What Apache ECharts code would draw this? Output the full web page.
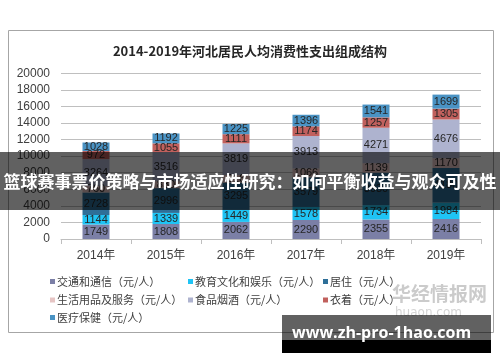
<!DOCTYPE html>
<html>
<head>
<meta charset="utf-8">
<script src="https://cdn.jsdelivr.net/npm/echarts@6/dist/echarts.min.js"></script>
<style>
html,body{margin:0;padding:0;background:#fff;}
#c{width:500px;height:362px;}
</style>
</head>
<body>
<div id="c"></div>
<script>
var categories = ['2014年','2015年','2016年','2017年','2018年','2019年'];
var transport = [1749,1808,2062,2290,2355,2416];
var education = [1144,1339,1449,1578,1734,1984];
var housing   = [2728,2996,3295,3579,3930,4180];
var household = [760,830,916,1066,1139,1170];
var food      = [3264,3516,3819,3913,4271,4676];
var clothing  = [972,1055,1111,1174,1257,1305];
var medical   = [1028,1192,1225,1396,1541,1699];
var yTicks = [0,2000,4000,6000,8000,10000,12000,14000,16000,18000,20000];

var seriesNames = ['交通和通信（元/人）','教育文化和娱乐（元/人）','居住（元/人）','生活用品及服务（元/人）','食品烟酒（元/人）','衣着（元/人）','医疗保健（元/人）'];
var seriesData = [transport, education, housing, household, food, clothing, medical];
var colors = ['#7b7fa6','#1fc4f5','#2e6f98','#e6c5c4','#aeb3cf','#c1605d','#4a93c4'];

var FONT = 'Arial, "Liberation Sans", "Noto Sans CJK SC", sans-serif';

var series = seriesData.map(function(d, i){
  return {
    name: seriesNames[i],
    type: 'bar',
    stack: 'total',
    barWidth: 27,
    data: d,
    itemStyle: {color: colors[i]},
    label: {show: true, position: 'inside', color: '#262626', fontSize: 11, fontFamily: FONT},
    z: 2
  };
});

var legendPos = [[50,276],[188,276],[323,276],[50,294.5],[188,294.5],[323,294.5],[50,312]];
var legends = seriesNames.map(function(n, i){
  return {
    data: [n], left: legendPos[i][0], top: legendPos[i][1], padding: 0,
    icon: 'rect', itemWidth: 5, itemHeight: 5, itemGap: 0,
    textStyle: {fontSize: 11, color: '#404040', fontFamily: '"Noto Sans CJK SC", sans-serif', padding: [0,0,0,-3]},
    selectedMode: false
  };
});

var chart = echarts.init(document.getElementById('c'), null, {renderer: 'canvas'});
chart.setOption({
  animation: false,
  backgroundColor: '#fff',
  title: {
    text: '2014-2019年河北居民人均消费性支出组成结构',
    left: 'center', top: 40,
    textStyle: {fontSize: 13, fontWeight: 'bold', color: '#262626', fontFamily: '"Noto Sans CJK SC", sans-serif'}
  },
  legend: legends,
  grid: {left: 61, right: 19, top: 73.3, bottom: 123},
  xAxis: {
    type: 'category', data: categories,
    axisLine: {lineStyle: {color: '#bfbfbf'}},
    axisTick: {show: true, length: 5, lineStyle: {color: '#bfbfbf'}},
    axisLabel: {fontSize: 12, color: '#404040', margin: 11, fontFamily: FONT}
  },
  yAxis: {
    type: 'value', min: yTicks[0], max: yTicks[yTicks.length-1], interval: yTicks[1]-yTicks[0],
    axisLine: {show: false}, axisTick: {show: false},
    splitLine: {lineStyle: {color: '#bfbfbf'}},
    axisLabel: {fontSize: 12, color: '#404040', margin: 11, fontFamily: FONT, formatter: function(v){ return String(v); }}
  },
  series: series,
  graphic: [
    {type: 'rect', shape: {x: 8.5, y: 30.5, width: 485, height: 302}, style: {fill: 'none', stroke: '#a6a6a6', lineWidth: 1}, z: 0, silent: true},
    {type: 'rect', shape: {x: 0, y: 152, width: 500, height: 58}, style: {fill: 'rgba(0,0,0,0.62)'}, z: 100},
    {type: 'text', left: 'center', top: 173, style: {text: '篮球赛事票价策略与市场适应性研究：如何平衡收益与观众可及性', fill: '#ffffff', font: 'bold 17px "Noto Sans CJK SC", sans-serif'}, z: 101},
    {type: 'text', left: 392, top: 284, style: {text: '华经情报网', fill: 'rgba(160,160,160,0.55)', font: 'bold 19px "Noto Sans CJK SC", sans-serif'}, z: 90},
    {type: 'text', left: 395, top: 307, style: {text: 'huaon.com', fill: 'rgba(170,170,170,0.5)', font: '12px "DejaVu Sans", sans-serif'}, z: 90},
    {type: 'rect', shape: {x: 282, y: 315, width: 209, height: 25}, style: {fill: 'rgba(0,0,0,0.62)'}, z: 100},
    {type: 'rect', shape: {x: 282, y: 340, width: 209, height: 13}, style: {fill: '#000000'}, z: 100},
    {type: 'text', left: 292, top: 325, style: {text: 'www.zh-pro-1hao.com', fill: '#ffffff', font: 'bold 16px "Open Sans", "DejaVu Sans", sans-serif'}, z: 101}
  ]
});
</script>
</body>
</html>
